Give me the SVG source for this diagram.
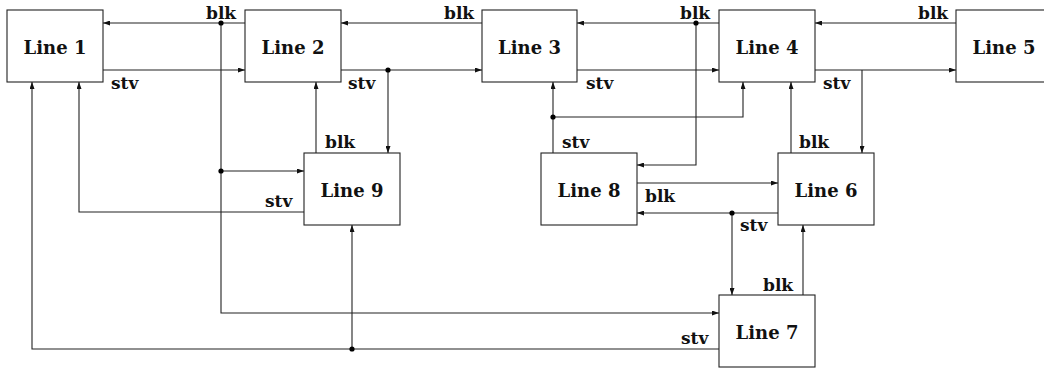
<svg xmlns="http://www.w3.org/2000/svg" width="1044" height="376" viewBox="0 0 1044 376">
<style>
.box{fill:#fff;stroke:#222;stroke-width:1.1}
.lbl{font-family:"DejaVu Serif","Liberation Serif",serif;font-weight:bold;font-size:17px;fill:#111}
.nl{font-family:"DejaVu Serif","Liberation Serif",serif;font-weight:bold;font-size:18px;fill:#111;text-anchor:middle}
.c{fill:none;stroke:#222;stroke-width:1.1}
.a{marker-end:url(#ah)}
.dot{fill:#000}
</style>
<defs>
<marker id="ah" markerUnits="userSpaceOnUse" markerWidth="7" markerHeight="5" refX="7" refY="2.5" orient="auto">
<path d="M0,0 L7,2.5 L0,5 z" fill="#111"/>
</marker>
</defs>
<rect width="1044" height="376" fill="#fff"/>
<g id="connectors">
<path class="c a" d="M245,23 H103"/>
<path class="c a" d="M221,23 V313 H719"/>
<path class="c a" d="M221,171 H304"/>
<path class="c a" d="M103,70 H245"/>
<path class="c a" d="M482,23 H341"/>
<path class="c a" d="M341,70 H482"/>
<path class="c a" d="M388,70 V153"/>
<path class="c a" d="M316,153 V82"/>
<path class="c a" d="M304,212 H79 V82"/>
<path class="c a" d="M719,349 H32 V82"/>
<path class="c a" d="M352,349 V225"/>
<path class="c a" d="M719,23 H577"/>
<path class="c a" d="M696,23 V165 H637"/>
<path class="c a" d="M577,70 H719"/>
<path class="c a" d="M553,153 V82"/>
<path class="c a" d="M553,117 H743 V82"/>
<path class="c a" d="M956,23 H815"/>
<path class="c a" d="M815,70 H956"/>
<path class="c a" d="M862,70 V153"/>
<path class="c a" d="M791,153 V82"/>
<path class="c a" d="M637,183 H778"/>
<path class="c a" d="M778,213 H637"/>
<path class="c a" d="M732,213 V295"/>
<path class="c a" d="M803,295 V225"/>
<circle class="dot" cx="221" cy="23" r="2.6"/>
<circle class="dot" cx="221" cy="171" r="2.6"/>
<circle class="dot" cx="388" cy="70" r="2.6"/>
<circle class="dot" cx="352" cy="349" r="2.6"/>
<circle class="dot" cx="696" cy="23" r="2.6"/>
<circle class="dot" cx="553" cy="117" r="2.6"/>
<circle class="dot" cx="732" cy="213" r="2.6"/>
<text class="lbl" x="206" y="19">blk</text>
<text class="lbl" x="111" y="89">stv</text>
<text class="lbl" x="444" y="19">blk</text>
<text class="lbl" x="348" y="89">stv</text>
<text class="lbl" x="680" y="19">blk</text>
<text class="lbl" x="586" y="89">stv</text>
<text class="lbl" x="918" y="19">blk</text>
<text class="lbl" x="823" y="89">stv</text>
<text class="lbl" x="325" y="148">blk</text>
<text class="lbl" x="265" y="207">stv</text>
<text class="lbl" x="562" y="148">stv</text>
<text class="lbl" x="645" y="202">blk</text>
<text class="lbl" x="799" y="148">blk</text>
<text class="lbl" x="740" y="231">stv</text>
<text class="lbl" x="763" y="291">blk</text>
<text class="lbl" x="681" y="344">stv</text>
</g>
<g id="line1"><rect class="box" x="7" y="10" width="96" height="72"/><text class="nl" x="55" y="54">Line 1</text></g>
<g id="line2"><rect class="box" x="245" y="10" width="96" height="72"/><text class="nl" x="293" y="54">Line 2</text></g>
<g id="line3"><rect class="box" x="482" y="10" width="95" height="72"/><text class="nl" x="529.5" y="54">Line 3</text></g>
<g id="line4"><rect class="box" x="719" y="10" width="96" height="72"/><text class="nl" x="767" y="54">Line 4</text></g>
<g id="line5"><rect class="box" x="956" y="10" width="96" height="72"/><text class="nl" x="1004" y="54">Line 5</text></g>
<g id="line9"><rect class="box" x="304" y="153" width="96" height="72"/><text class="nl" x="352" y="197">Line 9</text></g>
<g id="line8"><rect class="box" x="541" y="153" width="96" height="72"/><text class="nl" x="589" y="197">Line 8</text></g>
<g id="line6"><rect class="box" x="778" y="153" width="96" height="72"/><text class="nl" x="826" y="197">Line 6</text></g>
<g id="line7"><rect class="box" x="719" y="295" width="96" height="72"/><text class="nl" x="767" y="339">Line 7</text></g>
</svg>
